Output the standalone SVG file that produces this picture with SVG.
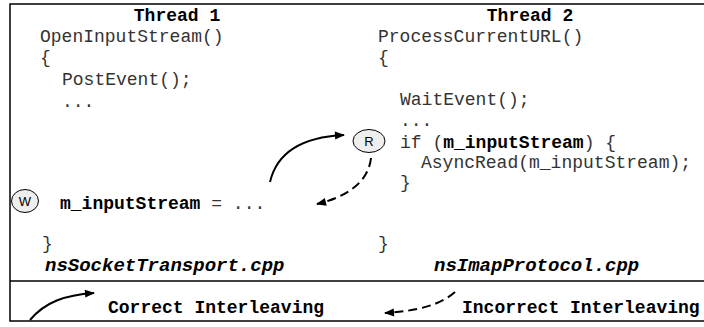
<svg xmlns="http://www.w3.org/2000/svg" width="704" height="327" viewBox="0 0 704 327">
<style>
.code{font-family:"Liberation Mono","Courier New",monospace;font-size:18px;fill:#333;}
.b{font-weight:bold;fill:#000;}
.bi{font-weight:bold;font-style:italic;fill:#000;font-size:19px;}
.frame{fill:none;stroke:#000;stroke-width:1.5;}
.ell{fill:#eeeeee;stroke:#000;stroke-width:1;}
.lbl{font-family:"Liberation Sans",Arial,sans-serif;font-size:13px;fill:#000;text-anchor:middle;}
.arr{fill:none;stroke:#000;stroke-width:2;}
.dash{stroke-dasharray:9 5;}
</style>
<defs>
<marker id="ah2" viewBox="0 0 10 10" refX="9" refY="5" markerWidth="12" markerHeight="10" orient="auto" markerUnits="userSpaceOnUse">
<path d="M0,1 L10,5 L0,9 z" fill="#000"/>
</marker>
</defs>
<path class="frame" d="M704,4 H10 V321 H704 M10,281 H704"/>
<g id="thread1">
<text class="code b" x="177" y="21" text-anchor="middle">Thread 1</text>
<text class="code" x="40" y="42">OpenInputStream()</text>
<text class="code" x="40" y="63">{</text>
<text class="code" x="62" y="85">PostEvent();</text>
<text class="code" x="62" y="107">...</text>
<text class="code" x="60" y="209"><tspan class="b">m_inputStream</tspan> = ...</text>
<text class="code" x="42" y="249">}</text>
<text class="code bi" x="45" y="271">nsSocketTransport.cpp</text>
</g>
<g id="thread2">
<text class="code b" x="530" y="21" text-anchor="middle">Thread 2</text>
<text class="code" x="378" y="42">ProcessCurrentURL()</text>
<text class="code" x="378" y="63">{</text>
<text class="code" x="400" y="105">WaitEvent();</text>
<text class="code" x="400" y="126">...</text>
<text class="code" x="400" y="148">if (<tspan class="b">m_inputStream</tspan>) {</text>
<text class="code" x="421" y="168">AsyncRead(m_inputStream);</text>
<text class="code" x="400" y="188">}</text>
<text class="code" x="378" y="249">}</text>
<text class="code bi" x="434" y="271">nsImapProtocol.cpp</text>
</g>
<g id="W">
<ellipse class="ell" cx="25" cy="201" rx="13.5" ry="11.5"/>
<text class="lbl" x="25" y="206">W</text>
</g>
<g id="R">
<ellipse class="ell" cx="369" cy="141" rx="16" ry="11.5"/>
<text class="lbl" x="369" y="146">R</text>
</g>
<g id="connectors">
<path class="arr" d="M270,182 C277,152 302,137 344,135" marker-end="url(#ah2)"/>
<path class="arr dash" d="M371,158 C368,185 342,198 317,204" marker-end="url(#ah2)"/>
</g>
<g id="legend">
<path class="arr" d="M30,320 C45,302 65,295 94,293" marker-end="url(#ah2)"/>
<text class="code b" x="108" y="313">Correct Interleaving</text>
<path class="arr dash" d="M455,292 C440,305 418,311 385,313" marker-end="url(#ah2)"/>
<text class="code b" x="462" y="313">Incorrect Interleaving</text>
</g>
</svg>
